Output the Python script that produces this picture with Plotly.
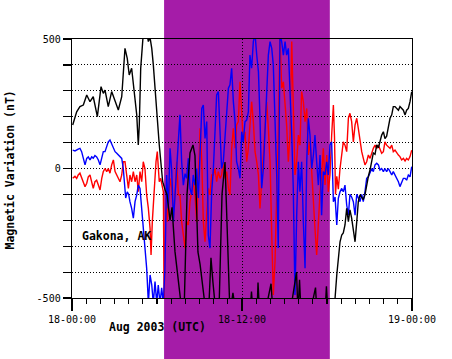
import pandas as pd
import plotly.graph_objects as go

# ---- data (hours after 2003-08-18 00:00 UT, nT) ----
black_h = [0.05,0.21,0.33,0.56,0.80,1.04,1.27,1.50,1.62,1.79,2.05,2.21,2.33,2.56,2.80,3.04,3.27,3.51,3.62,3.74,3.90,4.04,4.21,4.38,4.57,4.68,4.75,4.85,4.99,5.03,5.22,5.39,5.51,5.63,5.74,5.86,6.02,6.16,6.26,6.40,
           6.56,6.71,6.92,7.06,7.27,7.48,7.69,7.91,8.12,8.33,8.54,8.68,8.89,9.04,9.25,9.46,9.67,9.81,9.95,10.16,10.38,10.59,10.80,11.01,11.15,11.36,11.58,11.86,12.07,12.56,12.67,12.78,13.06,13.13,13.24,13.62,14.05,14.19,14.68,15.39,15.85,15.95,16.06,16.17,16.80,17.19,17.29,17.86,17.96,18.07,18.42,
           18.57,18.69,18.80,18.92,19.04,19.15,19.27,19.39,19.51,19.62,19.74,19.86,19.98,20.10,20.21,20.33,20.45,20.56,20.68,20.80,20.92,21.04,21.16,21.27,21.39,21.51,21.63,21.74,21.86,21.98,22.09,22.21,22.33,22.45,22.57,22.68,22.80,22.92,23.04,23.15,23.27,23.39,23.51,23.62,23.74,23.86,23.98]
black_nT = [168,200,219,239,245,284,258,277,245,200,316,290,303,239,297,264,226,277,380,464,425,361,387,310,207,91,168,387,483,520,540,490,505,464,400,297,194,91,26,-51,
            -80,-102,-200,-150,-321,-420,-520,-560,-100,60,91,50,-322,-370,-450,-560,-520,-345,-440,-560,-540,-100,25,-300,-560,-480,-560,-530,-560,-560,-475,-560,-560,-440,-560,-560,-445,-560,-560,-560,-400,-560,-430,-560,-560,-460,-560,-560,-455,-560,-560,
            -500,-411,-334,-283,-257,-249,-218,-154,-205,-160,-192,-230,-283,-205,-128,-102,-110,-120,-102,-60,-30,-5,26,60,55,91,80,110,129,142,115,125,155,194,207,239,239,230,225,239,232,225,207,225,232,258,297]

blue_h = [0.05,0.21,0.44,0.56,0.68,0.80,0.92,1.04,1.15,1.27,1.39,1.50,1.62,1.74,1.86,1.98,2.10,2.21,2.33,2.45,2.56,2.68,2.80,2.92,3.04,3.16,3.27,3.39,3.51,3.62,3.69,3.79,3.90,4.00,4.09,4.21,4.33,4.45,4.57,4.68,4.80,4.92,5.03,5.15,5.27,5.34,5.39,5.51,5.63,5.74,5.86,5.98,6.09,6.21,6.33,6.45,
          6.56,6.68,6.80,6.92,7.04,7.16,7.27,7.39,7.51,7.62,7.74,7.86,7.98,8.09,8.21,8.33,8.45,8.56,8.68,8.80,8.92,9.04,9.16,9.27,9.39,9.51,9.62,9.74,9.86,9.98,10.09,10.21,10.33,10.45,10.56,10.68,10.80,10.92,11.04,11.15,11.27,11.39,11.51,11.62,11.74,11.86,11.98,12.09,12.21,12.33,12.45,12.56,12.68,12.80,12.92,13.04,13.16,13.27,13.39,13.51,13.62,13.74,13.86,13.98,14.10,14.21,14.33,14.45,14.56,14.65,14.68,14.80,14.92,15.04,15.15,15.27,15.39,15.51,15.62,15.74,15.86,15.98,16.09,16.21,16.33,16.45,16.57,16.68,16.80,16.92,17.04,17.15,17.27,17.39,17.51,17.62,17.74,17.86,17.98,18.09,18.21,
          18.33,18.45,18.57,18.69,18.80,18.92,19.04,19.15,19.27,19.39,19.51,19.62,19.74,19.86,19.98,20.10,20.21,20.33,20.45,20.56,20.68,20.80,20.92,21.04,21.16,21.27,21.39,21.51,21.63,21.74,21.86,21.98,22.09,22.21,22.33,22.45,22.57,22.68,22.80,22.92,23.04,23.15,23.27,23.39,23.51,23.62,23.74,23.86,23.98]
blue_nT = [71,68,75,78,65,39,14,39,45,33,45,40,50,45,33,14,46,65,65,84,103,110,97,78,65,59,52,46,39,0,-64,-114,-90,-100,-128,-154,-192,-128,-102,-64,-77,-154,-244,-321,-385,-461,-520,-411,-450,-520,-437,-520,-450,-520,-461,-520,
           -385,-25,-154,78,-10,-205,-110,0,91,207,26,-64,-20,-38,39,-77,-102,-25,-64,0,-114,91,232,245,116,181,-257,-308,-90,0,155,284,297,155,0,26,129,219,310,323,387,258,181,26,0,-38,142,103,181,187,219,438,387,490,520,438,374,194,-76,0,156,284,438,490,464,400,219,-25,-307,200,520,490,438,490,438,464,311,129,-76,-488,-180,26,-90,26,-205,-385,26,194,129,0,52,129,26,-64,52,-180,-12,-25,26,-25,91,
           103,-128,-110,-218,-115,-90,-77,-90,-64,-141,-180,-100,-110,-128,-180,-100,-115,-128,-100,-128,-90,-38,-32,-12,0,-12,14,20,14,-6,0,-12,0,-12,0,-12,-25,-12,-25,-32,-51,-70,-51,-38,-38,-45,-25,-32,7]

red_h = [0.05,0.21,0.33,0.44,0.56,0.68,0.80,0.92,1.04,1.15,1.27,1.39,1.50,1.62,1.74,1.86,1.98,2.10,2.21,2.33,2.45,2.56,2.68,2.80,2.92,3.04,3.16,3.27,3.39,3.51,3.62,3.74,3.86,3.98,4.09,4.21,4.33,4.45,4.57,4.68,4.80,4.92,5.03,5.15,5.27,5.39,5.51,5.58,5.67,5.74,5.86,5.93,6.02,6.09,6.16,6.26,6.35,6.45,
         6.50,6.64,6.73,6.80,6.92,7.04,7.16,7.27,7.39,7.51,7.62,7.74,7.86,7.98,8.09,8.21,8.33,8.45,8.56,8.68,8.80,8.92,9.04,9.16,9.27,9.39,9.51,9.62,9.74,9.86,9.98,10.09,10.21,10.33,10.45,10.56,10.68,10.80,10.92,11.04,11.15,11.27,11.39,11.51,11.62,11.74,11.86,11.98,12.09,12.21,12.33,12.45,12.56,12.68,12.80,12.92,13.04,13.16,13.27,13.39,13.51,13.62,13.74,13.86,13.98,14.10,14.21,14.33,14.45,14.56,14.68,14.80,14.92,15.04,15.15,15.27,15.39,15.51,15.62,15.74,15.86,15.98,16.09,16.21,16.33,16.45,16.57,16.68,16.80,16.92,17.04,17.15,17.27,17.39,17.51,17.62,17.74,17.86,17.98,18.09,18.21,
         18.33,18.45,18.53,18.60,18.69,18.80,18.92,19.04,19.15,19.27,19.39,19.51,19.62,19.74,19.86,19.98,20.10,20.21,20.33,20.45,20.56,20.68,20.80,20.92,21.04,21.16,21.27,21.39,21.51,21.63,21.74,21.86,21.98,22.09,22.21,22.33,22.45,22.57,22.68,22.80,22.92,23.04,23.15,23.27,23.39,23.51,23.62,23.74,23.86,23.98]
red_nT = [-38,-30,-38,-25,-18,-38,-57,-70,-57,-32,-25,-51,-77,-51,-45,-64,-83,-38,-12,0,-12,0,-18,14,33,-12,-25,-38,-51,-25,26,26,-25,-77,-25,-51,-12,-51,-25,-90,-12,-51,26,0,-102,-154,-231,-334,-205,-128,0,26,65,-25,-51,-38,-64,-90,
          -520,-115,-205,-128,-38,-77,-192,-102,26,-102,-102,-205,-257,-308,-205,-218,-128,-90,-51,-102,-205,-51,155,26,-205,-283,-180,-77,-102,-25,-25,0,-51,-12,-38,-25,26,-38,-12,-77,-102,78,155,78,168,181,335,181,103,142,26,78,155,258,181,65,26,-25,-154,-51,90,181,258,155,26,-257,-488,-360,-128,129,520,310,335,245,168,26,129,490,220,-25,26,129,90,297,258,181,232,52,103,-25,-128,-231,-334,-205,-90,-25,78,-64,52,-90,-25,
          129,245,120,-100,-30,-80,0,52,103,90,65,194,213,181,103,168,194,155,103,65,40,14,26,52,39,65,78,90,78,90,71,59,65,103,90,84,78,90,65,71,59,52,46,33,39,29,39,33,46,71]

shade_start_h = 6.5
shade_end_h = 18.2

station = "Gakona, AK"
x_title = "Aug 2003 (UTC)"
y_title = "Magnetic Variation (nT)"
y_tick_vals = [-500, -400, -300, -200, -100, 0, 100, 200, 300, 400, 500]
y_tick_text = ["-500", "", "", "", "", "0", "", "", "", "", "500"]

base = pd.Timestamp("2003-08-18")
def to_time(hours):
    return base + pd.to_timedelta(hours, unit="h")

MONO = "DejaVu Sans Mono"
fig = go.Figure()
for hrs, vals, col in [(red_h, red_nT, "#ff0000"), (blue_h, blue_nT, "#0000ff"), (black_h, black_nT, "#000000")]:
    fig.add_trace(go.Scatter(x=to_time(hrs), y=vals, mode="lines",
                             line=dict(color=col, width=1.4), showlegend=False, hoverinfo="skip"))

fig.add_shape(type="rect", xref="paper", yref="paper",
              x0=shade_start_h / 24, x1=shade_end_h / 24, y0=-0.3, y1=1.3,
              fillcolor="#a51ca8", line=dict(width=0), layer="below")

fig.update_layout(
    width=452, height=359,
    margin=dict(l=72, r=40, t=39, b=61),
    paper_bgcolor="white", plot_bgcolor="white",
    font=dict(family=MONO, color="black", size=10),
    xaxis=dict(type="date", range=[base, base + pd.Timedelta(hours=24)],
               tick0=base, dtick=12 * 3600 * 1000, tickformat="%d-%H:%M",
               ticks="outside", ticklen=12, tickwidth=1.3, tickcolor="black",
               showline=True, linecolor="black", linewidth=1.3, mirror=True,
               showgrid=True, gridcolor="black", gridwidth=1, griddash="1px,2px",
               zeroline=False, tickfont=dict(family=MONO, size=10),
               minor=dict(dtick=3600 * 1000, ticks="outside", ticklen=5, tickwidth=1.2,
                          tickcolor="black", showgrid=False)),
    yaxis=dict(range=[-500, 500], tickvals=y_tick_vals, ticktext=y_tick_text,
               ticks="outside", ticklen=8, tickwidth=1.2, tickcolor="black",
               showline=True, linecolor="black", linewidth=1.3, mirror=True,
               showgrid=True, gridcolor="black", gridwidth=1, griddash="1px,2px",
               zeroline=False, tickfont=dict(family=MONO, size=10)),
)

fig.add_annotation(text=station, xref="paper", yref="paper", x=(80 - 72) / 340, y=0.239,
                   xanchor="left", yanchor="middle", showarrow=False,
                   font=dict(family=MONO, size=11.5, weight="bold"))
fig.add_annotation(text=x_title, xref="paper", yref="paper", x=0.103, y=-0.112,
                   xanchor="left", yanchor="middle", showarrow=False,
                   font=dict(family=MONO, size=11.5, weight="bold"))
fig.add_annotation(text=y_title, xref="paper", yref="paper", x=-0.181, y=0.494,
                   xanchor="center", yanchor="middle", textangle=-90, showarrow=False,
                   font=dict(family=MONO, size=11.5, weight="bold"))

fig.write_html("out.html", config={"displayModeBar": False, "staticPlot": True},
               post_script="document.body.style.margin='0';document.body.style.overflow='hidden';")
